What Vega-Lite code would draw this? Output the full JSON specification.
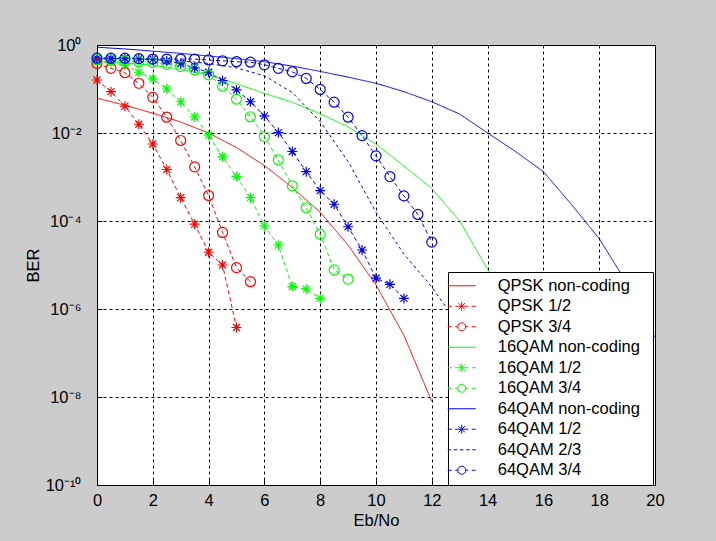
{
  "$schema": "https://vega.github.io/schema/vega-lite/v6.json",
  "width": 558,
  "height": 440,
  "autosize": {"type": "none"},
  "padding": {"left": 97, "top": 45, "right": 61, "bottom": 56},
  "background": "#cccccc",
  "view": {"fill": "white", "stroke": "black", "strokeWidth": 1},
  "config": {
    "font": "Liberation Sans",
    "axis": {
      "labelFont": "Liberation Sans", "labelFontSize": 16.5, "labelColor": "black",
      "titleFont": "Liberation Sans", "titleFontSize": 16.5, "titleFontWeight": "normal", "titleColor": "black",
      "grid": true, "gridColor": "black", "gridDash": [3, 3], "gridOpacity": 1, "gridWidth": 1,
      "domain": false, "tickColor": "black", "tickSize": -5
    },
    "legend": {
      "labelFont": "Liberation Sans", "labelFontSize": 16.5, "labelColor": "black"
    }
  },
  "datasets": {
    "ber": [
      {"s": "QPSK non-coding", "x": 0, "y": 0.0617},
      {"s": "QPSK non-coding", "x": 1, "y": 0.0427},
      {"s": "QPSK non-coding", "x": 2, "y": 0.0282},
      {"s": "QPSK non-coding", "x": 3, "y": 0.0178},
      {"s": "QPSK non-coding", "x": 4, "y": 0.0100},
      {"s": "QPSK non-coding", "x": 5, "y": 0.00468},
      {"s": "QPSK non-coding", "x": 6, "y": 0.00182},
      {"s": "QPSK non-coding", "x": 7, "y": 0.000575},
      {"s": "QPSK non-coding", "x": 8, "y": 0.000158},
      {"s": "QPSK non-coding", "x": 9, "y": 0.0000282},
      {"s": "QPSK non-coding", "x": 10, "y": 0.00000355},
      {"s": "QPSK non-coding", "x": 11, "y": 0.000000251},
      {"s": "QPSK non-coding", "x": 12, "y": 0.00000000794},

      {"s": "QPSK 1/2", "x": 0, "y": 0.160},
      {"s": "QPSK 1/2", "x": 0.5, "y": 0.0871},
      {"s": "QPSK 1/2", "x": 1, "y": 0.0407},
      {"s": "QPSK 1/2", "x": 1.5, "y": 0.0158},
      {"s": "QPSK 1/2", "x": 2, "y": 0.00562},
      {"s": "QPSK 1/2", "x": 2.5, "y": 0.00148},
      {"s": "QPSK 1/2", "x": 3, "y": 0.000339},
      {"s": "QPSK 1/2", "x": 3.5, "y": 0.0000851},
      {"s": "QPSK 1/2", "x": 4, "y": 0.0000195},
      {"s": "QPSK 1/2", "x": 4.5, "y": 0.0000100},
      {"s": "QPSK 1/2", "x": 5, "y": 0.00000038},

      {"s": "QPSK 3/4", "x": 0, "y": 0.380},
      {"s": "QPSK 3/4", "x": 0.5, "y": 0.295},
      {"s": "QPSK 3/4", "x": 1, "y": 0.234},
      {"s": "QPSK 3/4", "x": 1.5, "y": 0.135},
      {"s": "QPSK 3/4", "x": 2, "y": 0.0646},
      {"s": "QPSK 3/4", "x": 2.5, "y": 0.0229},
      {"s": "QPSK 3/4", "x": 3, "y": 0.00676},
      {"s": "QPSK 3/4", "x": 3.5, "y": 0.0017},
      {"s": "QPSK 3/4", "x": 4, "y": 0.00038},
      {"s": "QPSK 3/4", "x": 4.5, "y": 0.000055},
      {"s": "QPSK 3/4", "x": 5, "y": 0.0000087},
      {"s": "QPSK 3/4", "x": 5.5, "y": 0.00000417},

      {"s": "16QAM non-coding", "x": 0, "y": 0.417},
      {"s": "16QAM non-coding", "x": 1, "y": 0.389},
      {"s": "16QAM non-coding", "x": 2, "y": 0.347},
      {"s": "16QAM non-coding", "x": 3, "y": 0.282},
      {"s": "16QAM non-coding", "x": 4, "y": 0.209},
      {"s": "16QAM non-coding", "x": 5, "y": 0.132},
      {"s": "16QAM non-coding", "x": 6, "y": 0.0794},
      {"s": "16QAM non-coding", "x": 7, "y": 0.0501},
      {"s": "16QAM non-coding", "x": 8, "y": 0.0275},
      {"s": "16QAM non-coding", "x": 9, "y": 0.0138},
      {"s": "16QAM non-coding", "x": 10, "y": 0.00562},
      {"s": "16QAM non-coding", "x": 11, "y": 0.00178},
      {"s": "16QAM non-coding", "x": 12, "y": 0.00055},
      {"s": "16QAM non-coding", "x": 13, "y": 0.0001},
      {"s": "16QAM non-coding", "x": 14, "y": 0.00000794},
      {"s": "16QAM non-coding", "x": 15, "y": 0.0000005},

      {"s": "16QAM 1/2", "x": 0, "y": 0.437},
      {"s": "16QAM 1/2", "x": 0.5, "y": 0.398},
      {"s": "16QAM 1/2", "x": 1, "y": 0.347},
      {"s": "16QAM 1/2", "x": 1.5, "y": 0.240},
      {"s": "16QAM 1/2", "x": 2, "y": 0.170},
      {"s": "16QAM 1/2", "x": 2.5, "y": 0.100},
      {"s": "16QAM 1/2", "x": 3, "y": 0.0513},
      {"s": "16QAM 1/2", "x": 3.5, "y": 0.0234},
      {"s": "16QAM 1/2", "x": 4, "y": 0.00891},
      {"s": "16QAM 1/2", "x": 4.5, "y": 0.00288},
      {"s": "16QAM 1/2", "x": 5, "y": 0.00102},
      {"s": "16QAM 1/2", "x": 5.5, "y": 0.000339},
      {"s": "16QAM 1/2", "x": 6, "y": 0.0000776},
      {"s": "16QAM 1/2", "x": 6.5, "y": 0.0000282},
      {"s": "16QAM 1/2", "x": 7, "y": 0.00000324},
      {"s": "16QAM 1/2", "x": 7.5, "y": 0.00000282},
      {"s": "16QAM 1/2", "x": 8, "y": 0.00000174},

      {"s": "16QAM 3/4", "x": 0, "y": 0.468},
      {"s": "16QAM 3/4", "x": 0.5, "y": 0.457},
      {"s": "16QAM 3/4", "x": 1, "y": 0.437},
      {"s": "16QAM 3/4", "x": 1.5, "y": 0.417},
      {"s": "16QAM 3/4", "x": 2, "y": 0.398},
      {"s": "16QAM 3/4", "x": 2.5, "y": 0.363},
      {"s": "16QAM 3/4", "x": 3, "y": 0.324},
      {"s": "16QAM 3/4", "x": 3.5, "y": 0.275},
      {"s": "16QAM 3/4", "x": 4, "y": 0.209},
      {"s": "16QAM 3/4", "x": 4.5, "y": 0.117},
      {"s": "16QAM 3/4", "x": 5, "y": 0.0589},
      {"s": "16QAM 3/4", "x": 5.5, "y": 0.0234},
      {"s": "16QAM 3/4", "x": 6, "y": 0.00832},
      {"s": "16QAM 3/4", "x": 6.5, "y": 0.00245},
      {"s": "16QAM 3/4", "x": 7, "y": 0.000631},
      {"s": "16QAM 3/4", "x": 7.5, "y": 0.0002},
      {"s": "16QAM 3/4", "x": 8, "y": 0.0000501},
      {"s": "16QAM 3/4", "x": 8.5, "y": 0.00000776},
      {"s": "16QAM 3/4", "x": 9, "y": 0.00000479},

      {"s": "64QAM non-coding", "x": 0, "y": 0.891},
      {"s": "64QAM non-coding", "x": 1, "y": 0.813},
      {"s": "64QAM non-coding", "x": 2, "y": 0.724},
      {"s": "64QAM non-coding", "x": 3, "y": 0.646},
      {"s": "64QAM non-coding", "x": 4, "y": 0.562},
      {"s": "64QAM non-coding", "x": 5, "y": 0.490},
      {"s": "64QAM non-coding", "x": 6, "y": 0.417},
      {"s": "64QAM non-coding", "x": 7, "y": 0.331},
      {"s": "64QAM non-coding", "x": 8, "y": 0.251},
      {"s": "64QAM non-coding", "x": 9, "y": 0.186},
      {"s": "64QAM non-coding", "x": 10, "y": 0.135},
      {"s": "64QAM non-coding", "x": 11, "y": 0.0871},
      {"s": "64QAM non-coding", "x": 12, "y": 0.0513},
      {"s": "64QAM non-coding", "x": 13, "y": 0.0269},
      {"s": "64QAM non-coding", "x": 14, "y": 0.0100},
      {"s": "64QAM non-coding", "x": 15, "y": 0.0038},
      {"s": "64QAM non-coding", "x": 16, "y": 0.00132},
      {"s": "64QAM non-coding", "x": 17, "y": 0.00024},
      {"s": "64QAM non-coding", "x": 18, "y": 0.0000398},
      {"s": "64QAM non-coding", "x": 19, "y": 0.0000038},
      {"s": "64QAM non-coding", "x": 20, "y": 0.000000229},

      {"s": "64QAM 1/2", "x": 0, "y": 0.501},
      {"s": "64QAM 1/2", "x": 0.5, "y": 0.501},
      {"s": "64QAM 1/2", "x": 1, "y": 0.501},
      {"s": "64QAM 1/2", "x": 1.5, "y": 0.490},
      {"s": "64QAM 1/2", "x": 2, "y": 0.479},
      {"s": "64QAM 1/2", "x": 2.5, "y": 0.437},
      {"s": "64QAM 1/2", "x": 3, "y": 0.380},
      {"s": "64QAM 1/2", "x": 3.5, "y": 0.302},
      {"s": "64QAM 1/2", "x": 4, "y": 0.240},
      {"s": "64QAM 1/2", "x": 4.5, "y": 0.155},
      {"s": "64QAM 1/2", "x": 5, "y": 0.0955},
      {"s": "64QAM 1/2", "x": 5.5, "y": 0.0513},
      {"s": "64QAM 1/2", "x": 6, "y": 0.0245},
      {"s": "64QAM 1/2", "x": 6.5, "y": 0.0102},
      {"s": "64QAM 1/2", "x": 7, "y": 0.0038},
      {"s": "64QAM 1/2", "x": 7.5, "y": 0.00132},
      {"s": "64QAM 1/2", "x": 8, "y": 0.00049},
      {"s": "64QAM 1/2", "x": 8.5, "y": 0.00024},
      {"s": "64QAM 1/2", "x": 9, "y": 0.0000741},
      {"s": "64QAM 1/2", "x": 9.5, "y": 0.0000219},
      {"s": "64QAM 1/2", "x": 10, "y": 0.00000501},
      {"s": "64QAM 1/2", "x": 10.5, "y": 0.00000363},
      {"s": "64QAM 1/2", "x": 11, "y": 0.00000174},

      {"s": "64QAM 2/3", "x": 0, "y": 0.501},
      {"s": "64QAM 2/3", "x": 1, "y": 0.490},
      {"s": "64QAM 2/3", "x": 2, "y": 0.468},
      {"s": "64QAM 2/3", "x": 3, "y": 0.437},
      {"s": "64QAM 2/3", "x": 4, "y": 0.380},
      {"s": "64QAM 2/3", "x": 5, "y": 0.302},
      {"s": "64QAM 2/3", "x": 6, "y": 0.200},
      {"s": "64QAM 2/3", "x": 7, "y": 0.0832},
      {"s": "64QAM 2/3", "x": 8, "y": 0.0182},
      {"s": "64QAM 2/3", "x": 9, "y": 0.00224},
      {"s": "64QAM 2/3", "x": 10, "y": 0.000158},
      {"s": "64QAM 2/3", "x": 11, "y": 0.0000178},
      {"s": "64QAM 2/3", "x": 12, "y": 0.00000316},
      {"s": "64QAM 2/3", "x": 12.5, "y": 0.00000112},

      {"s": "64QAM 3/4", "x": 0, "y": 0.501},
      {"s": "64QAM 3/4", "x": 0.5, "y": 0.501},
      {"s": "64QAM 3/4", "x": 1, "y": 0.501},
      {"s": "64QAM 3/4", "x": 1.5, "y": 0.490},
      {"s": "64QAM 3/4", "x": 2, "y": 0.479},
      {"s": "64QAM 3/4", "x": 2.5, "y": 0.479},
      {"s": "64QAM 3/4", "x": 3, "y": 0.479},
      {"s": "64QAM 3/4", "x": 3.5, "y": 0.479},
      {"s": "64QAM 3/4", "x": 4, "y": 0.457},
      {"s": "64QAM 3/4", "x": 4.5, "y": 0.437},
      {"s": "64QAM 3/4", "x": 5, "y": 0.417},
      {"s": "64QAM 3/4", "x": 5.5, "y": 0.407},
      {"s": "64QAM 3/4", "x": 6, "y": 0.355},
      {"s": "64QAM 3/4", "x": 6.5, "y": 0.295},
      {"s": "64QAM 3/4", "x": 7, "y": 0.245},
      {"s": "64QAM 3/4", "x": 7.5, "y": 0.174},
      {"s": "64QAM 3/4", "x": 8, "y": 0.0977},
      {"s": "64QAM 3/4", "x": 8.5, "y": 0.0501},
      {"s": "64QAM 3/4", "x": 9, "y": 0.0229},
      {"s": "64QAM 3/4", "x": 9.5, "y": 0.00871},
      {"s": "64QAM 3/4", "x": 10, "y": 0.00302},
      {"s": "64QAM 3/4", "x": 10.5, "y": 0.00102},
      {"s": "64QAM 3/4", "x": 11, "y": 0.000372},
      {"s": "64QAM 3/4", "x": 11.5, "y": 0.000141},
      {"s": "64QAM 3/4", "x": 12, "y": 0.0000331}
    ]
  },
  "data": {"name": "ber"},
  "encoding": {
    "x": {
      "field": "x", "type": "quantitative", "title": "Eb/No",
      "scale": {"domain": [0, 20], "nice": false, "zero": false},
      "axis": {"values": [0, 2, 4, 6, 8, 10, 12, 14, 16, 18, 20], "labelPadding": 12, "titlePadding": 4, "labelFlush": false}
    },
    "y": {
      "field": "y", "type": "quantitative", "title": "BER",
      "scale": {"type": "log", "domain": [1e-10, 1], "nice": false},
      "axis": {
        "values": [1e-10, 1e-8, 1e-6, 1e-4, 1e-2, 1],
        "labelExpr": "datum.value > 0.1 ? '10⁰' : datum.value > 0.001 ? '10⁻²' : datum.value > 0.00001 ? '10⁻⁴' : datum.value > 0.0000001 ? '10⁻⁶' : datum.value > 0.000000001 ? '10⁻⁸' : '10⁻¹⁰'",
        "labelPadding": 21, "titlePadding": 4, "labelFlush": false
      }
    }
  },
  "layer": [
    {
      "mark": {"type": "line", "strokeWidth": 1, "clip": true},
      "encoding": {
        "color": {
          "field": "s", "type": "nominal", "legend": null,
          "scale": {
            "domain": ["QPSK non-coding", "QPSK 1/2", "QPSK 3/4", "16QAM non-coding", "16QAM 1/2", "16QAM 3/4", "64QAM non-coding", "64QAM 1/2", "64QAM 2/3", "64QAM 3/4"],
            "range": ["#ff0000", "#ff0000", "#ff0000", "#00ff00", "#00ff00", "#00ff00", "#0000ff", "#0000ff", "#0000ff", "#0000ff"]
          }
        },
        "strokeDash": {
          "field": "s", "type": "nominal", "legend": null,
          "scale": {
            "domain": ["QPSK non-coding", "QPSK 1/2", "QPSK 3/4", "16QAM non-coding", "16QAM 1/2", "16QAM 3/4", "64QAM non-coding", "64QAM 1/2", "64QAM 2/3", "64QAM 3/4"],
            "range": [[1, 0], [4, 3], [4, 3], [1, 0], [4, 3], [4, 3], [1, 0], [4, 3], [3, 3], [4, 3]]
          }
        }
      }
    },
    {
      "transform": [{"filter": {"field": "s", "oneOf": ["QPSK 1/2", "16QAM 1/2", "64QAM 1/2"]}}],
      "mark": {"type": "point", "shape": "M-1,0H1M0,-1V1M-0.7,-0.7L0.7,0.7M-0.7,0.7L0.7,-0.7", "filled": false, "size": 100, "strokeWidth": 1.2, "opacity": 1},
      "encoding": {
        "color": {"field": "s", "type": "nominal", "legend": null}
      }
    },
    {
      "transform": [{"filter": {"field": "s", "oneOf": ["QPSK 3/4", "16QAM 3/4", "64QAM 3/4"]}}],
      "mark": {"type": "point", "shape": "circle", "filled": false, "size": 100, "strokeWidth": 1.2, "opacity": 1},
      "encoding": {
        "color": {"field": "s", "type": "nominal", "legend": null}
      }
    },
    {
      "transform": [{"filter": "datum.x < -100"}],
      "mark": {"type": "point", "filled": false, "strokeWidth": 1, "opacity": 1},
      "encoding": {
        "color": {
          "field": "s", "type": "nominal",
          "legend": {
            "title": ".", "titleOrient": "right", "titleOpacity": 0, "titlePadding": 2.9, "titleFontSize": 16.5, "titleFontWeight": "normal",
            "orient": "none", "legendX": 351, "legendY": 227,
            "fillColor": "white", "strokeColor": "black", "padding": 5.5,
            "symbolSize": 196, "symbolStrokeWidth": 1, "labelFontSize": 16.5,
            "labelOffset": 27.75, "rowPadding": 3.5, "labelLimit": 400
          }
        },
        "shape": {
          "field": "s", "type": "nominal",
          "scale": {
            "domain": ["QPSK non-coding", "QPSK 1/2", "QPSK 3/4", "16QAM non-coding", "16QAM 1/2", "16QAM 3/4", "64QAM non-coding", "64QAM 1/2", "64QAM 2/3", "64QAM 3/4"],
            "range": [
              "M-2.46,0h0M-2,0H2",
              "M-2.46,0h0M-2,0H-1.43M-0.93,0H-0.64M0.64,0H0.93M1.43,0H2M-0.64,0H0.64M0,-0.64V0.64M-0.45,-0.45L0.45,0.45M-0.45,0.45L0.45,-0.45",
              "M-2.46,0h0M-2,0H-1.43M-0.93,0H-0.57M0.57,0H0.93M1.43,0H2M-0.57,0A0.57,0.57 0 1,0 0.57,0A0.57,0.57 0 1,0 -0.57,0",
              "M-2.46,0h0M-2,0H2",
              "M-2.46,0h0M-2,0H-1.43M-0.93,0H-0.64M0.64,0H0.93M1.43,0H2M-0.64,0H0.64M0,-0.64V0.64M-0.45,-0.45L0.45,0.45M-0.45,0.45L0.45,-0.45",
              "M-2.46,0h0M-2,0H-1.43M-0.93,0H-0.57M0.57,0H0.93M1.43,0H2M-0.57,0A0.57,0.57 0 1,0 0.57,0A0.57,0.57 0 1,0 -0.57,0",
              "M-2.46,0h0M-2,0H2",
              "M-2.46,0h0M-2,0H-1.43M-0.93,0H-0.64M0.64,0H0.93M1.43,0H2M-0.64,0H0.64M0,-0.64V0.64M-0.45,-0.45L0.45,0.45M-0.45,0.45L0.45,-0.45",
              "M-2.46,0h0M-2,0H-1.5M-1.125,0H-0.625M-0.25,0H0.25M0.625,0H1.125M1.5,0H2",
              "M-2.46,0h0M-2,0H-1.43M-0.93,0H-0.57M0.57,0H0.93M1.43,0H2M-0.57,0A0.57,0.57 0 1,0 0.57,0A0.57,0.57 0 1,0 -0.57,0"
            ]
          },
          "legend": {
            "title": ".", "titleOrient": "right", "titleOpacity": 0, "titlePadding": 2.9, "titleFontSize": 16.5, "titleFontWeight": "normal",
            "orient": "none", "legendX": 351, "legendY": 227,
            "fillColor": "white", "strokeColor": "black", "padding": 5.5,
            "symbolSize": 196, "symbolStrokeWidth": 1, "labelFontSize": 16.5,
            "labelOffset": 27.75, "rowPadding": 3.5, "labelLimit": 400
          }
        }
      }
    }
  ],
  "resolve": {"legend": {"color": "independent", "shape": "independent", "strokeDash": "independent"}}
}
